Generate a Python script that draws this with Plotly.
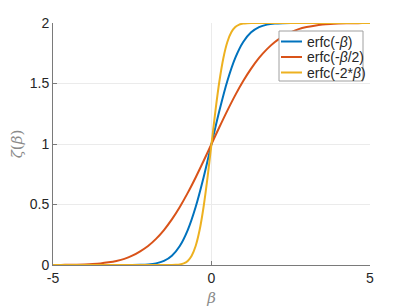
import plotly.graph_objects as go

x_main = [-5, -4.75, -4.5, -4.25, -4, -3.75, -3.5, -3.25, -3, -2.75, -2.5, -2.25, -2, -1.75, -1.5, -1.25, -1, -0.75, -0.5, -0.25,
          0, 0.25, 0.5, 0.75, 1, 1.25, 1.5, 1.75, 2, 2.25, 2.5, 2.75, 3, 3.25, 3.5, 3.75, 4, 4.25, 4.5, 4.75, 5]
erfc_neg_b = [0, 0, 0, 0, 0, 0, 0, 0, 0, 0.0001, 0.0004, 0.0015, 0.0047, 0.0133, 0.0339, 0.0771, 0.1573, 0.2888, 0.4795, 0.7237,
              1.0, 1.2763, 1.5205, 1.7112, 1.8427, 1.9229, 1.9661, 1.9867, 1.9953, 1.9985, 1.9996, 1.9999, 2, 2, 2, 2, 2, 2, 2, 2, 2]
erfc_neg_b_half = [0.0004, 0.0008, 0.0015, 0.0027, 0.0047, 0.0081, 0.0133, 0.0220, 0.0339, 0.0510, 0.0771, 0.1132, 0.1573, 0.2159,
                   0.2888, 0.3768, 0.4795, 0.5959, 0.7237, 0.8597,
                   1.0, 1.1403, 1.2763, 1.4041, 1.5205, 1.6232, 1.7112, 1.7841, 1.8427, 1.8868, 1.9229, 1.9490, 1.9661, 1.9780,
                   1.9867, 1.9919, 1.9953, 1.9973, 1.9985, 1.9992, 1.9996]
x_steep = [-5, -1.5, -1.375, -1.25, -1.125, -1, -0.875, -0.75, -0.625, -0.5, -0.375, -0.25, -0.125,
           0, 0.125, 0.25, 0.375, 0.5, 0.625, 0.75, 0.875, 1, 1.125, 1.25, 1.375, 1.5, 5]
erfc_neg_2b = [0, 0, 0.0001, 0.0004, 0.0015, 0.0047, 0.0133, 0.0339, 0.0771, 0.1573, 0.2888, 0.4795, 0.7237,
               1.0, 1.2763, 1.5205, 1.7112, 1.8427, 1.9229, 1.9661, 1.9867, 1.9953, 1.9985, 1.9996, 1.9999, 2.0, 2.0]

x_ticks = [-5, 0, 5]
y_ticks = [0, 0.5, 1, 1.5, 2]
names = ["erfc(-<i>β</i>)", "erfc(-<i>β</i>/2)", "erfc(-2*<i>β</i>)"]
colors = ["#0072BD", "#D95319", "#EDB120"]

FONT = "Liberation Sans, Arial, sans-serif"

fig = go.Figure()
for xs, ys, nm, col in [(x_main, erfc_neg_b, names[0], colors[0]),
                        (x_main, erfc_neg_b_half, names[1], colors[1]),
                        (x_steep, erfc_neg_2b, names[2], colors[2])]:
    fig.add_trace(go.Scatter(x=xs, y=ys, mode="lines", name=nm, showlegend=False,
                             line=dict(color=col, width=2, shape="spline", smoothing=0.8)))

axis_common = dict(
    showline=True, linecolor="#7a7a7a", linewidth=1,
    showgrid=True, gridcolor="#ebebeb", gridwidth=1,
    ticks="inside", ticklen=4, tickcolor="#7a7a7a",
    tickfont=dict(family=FONT, size=14, color="#262626"),
    zeroline=False, mirror=False, automargin=False,
)

# page body adds an 8px offset; plot area targets x 53..370 px, y 23..265 px on screen
OFF = 8
L, T, W, H = 53 - OFF, 23 - OFF, 317, 242
def px(x):
    return (x - OFF - L) / W
def py(y):
    return (T + H - (y - OFF)) / H

shapes = [dict(type="rect", xref="paper", yref="paper", x0=px(279), x1=px(363), y0=py(81), y1=py(31),
               fillcolor="white", line=dict(color="#a0a0a0", width=1), layer="above")]
annotations = []
row_y = [41.5, 57, 72.5]
for i in range(3):
    shapes.append(dict(type="line", xref="paper", yref="paper", x0=px(281), x1=px(302),
                       y0=py(row_y[i]), y1=py(row_y[i]), line=dict(color=colors[i], width=2), layer="above"))
    annotations.append(dict(xref="paper", yref="paper", x=px(305), y=py(row_y[i]), xanchor="left", yanchor="middle",
                            text=names[i], showarrow=False,
                            font=dict(family=FONT, size=14, color="#262626")))

fig.update_layout(
    width=409, height=307,
    margin=dict(l=L, r=409 - L - W, t=T, b=307 - T - H),
    paper_bgcolor="white", plot_bgcolor="white",
    showlegend=False,
    shapes=shapes, annotations=annotations,
    xaxis=dict(range=[-5, 5], tickvals=x_ticks, ticktext=[str(v) for v in x_ticks],
               title=dict(text="<i>β</i>", standoff=7,
                          font=dict(family="DejaVu Serif, serif", size=15, color="#8a8a8a")),
               **axis_common),
    yaxis=dict(range=[0, 2], tickvals=y_ticks, ticktext=[f"{v:g}" for v in y_ticks],
               title=dict(text="<i>ζ</i>(<i>β</i>)", standoff=5,
                          font=dict(family="DejaVu Serif, serif", size=15, color="#8a8a8a")),
               **axis_common),
)

fig.write_html("out.html")
